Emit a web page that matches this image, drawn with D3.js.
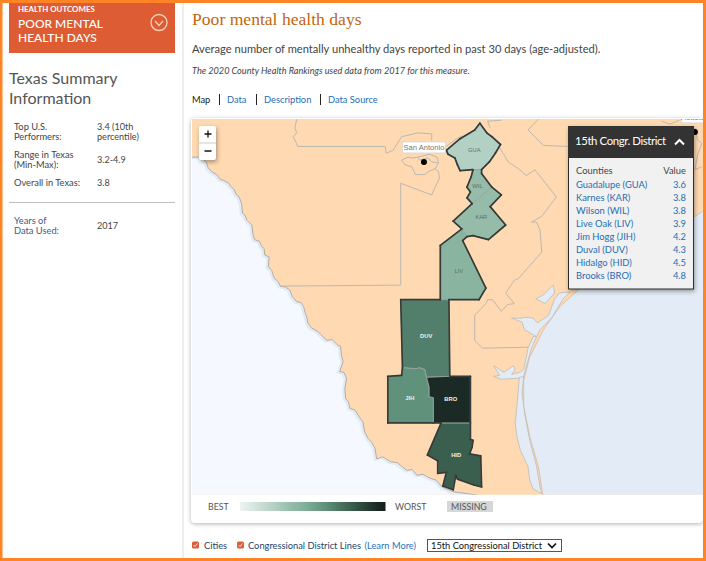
<!DOCTYPE html>
<html>
<head>
<meta charset="utf-8">
<title>Poor mental health days</title>
<script src="https://cdn.jsdelivr.net/npm/d3@7"></script>
<style>
  html, body { margin: 0; padding: 0; background: #fff; }
  svg { display: block; font-family: Lato, "Open Sans", sans-serif; }
  .card { filter: drop-shadow(0 1px 2px rgba(0,0,0,0.3)); }
  .boxShadow { filter: drop-shadow(1px 2px 2px rgba(0,0,0,0.35)); }
</style>
</head>
<body>
<svg id="page" width="706" height="561"></svg>
<script>
// the 15th district counties, already sorted by value like the table
var countyNames = ['Guadalupe', 'Karnes', 'Wilson', 'Live Oak', 'Jim Hogg', 'Duval', 'Hidalgo', 'Brooks'];
var countyCodes = ['GUA', 'KAR', 'WIL', 'LIV', 'JIH', 'DUV', 'HID', 'BRO'];
var countyValues = [3.6, 3.8, 3.8, 3.9, 4.2, 4.3, 4.5, 4.8];

// colour ramp, measure range in Texas is 3.2-4.9
var rampValues = [3.2, 3.6, 3.8, 3.9, 4.2, 4.3, 4.5, 4.8, 4.9];
var rampColors = ['#eef4f1', '#b3d0c4', '#94bca8', '#89b5a0', '#5f917b', '#527f6b', '#3a5f4e', '#1b2a24', '#141e1a'];

// county outlines traced by eye, [lon, lat]
var guaRing = [[-97.84,29.82],[-97.76,29.72],[-97.70,29.68],[-97.60,29.60],[-97.66,29.51],[-97.73,29.42],[-97.82,29.34],[-97.92,29.34],[-98.07,29.33],[-98.10,29.39],[-98.13,29.46],[-98.21,29.50],[-98.23,29.54],[-98.07,29.66],[-97.90,29.75]];
var wilRing = [[-97.92,29.34],[-97.82,29.34],[-97.82,29.30],[-97.70,29.16],[-97.93,28.99],[-97.99,29.05],[-97.95,29.11],[-97.99,29.16],[-97.94,29.27]];
var karRing = [[-97.70,29.16],[-97.59,29.08],[-97.72,28.96],[-97.54,28.77],[-97.74,28.62],[-97.92,28.66],[-97.99,28.65],[-98.05,28.73],[-98.15,28.81],[-97.93,28.99]];
var livRing = [[-98.05,28.73],[-97.99,28.65],[-98.04,28.61],[-97.77,28.12],[-97.85,28.00],[-98.20,28.00],[-98.30,28.00],[-98.30,28.56]];
var duvRing = [[-98.76,28.00],[-98.30,28.00],[-98.20,28.00],[-98.19,27.21],[-98.46,27.20],[-98.48,27.28],[-98.54,27.30],[-98.58,27.29],[-98.74,27.30]];
var jihRing = [[-98.91,27.21],[-98.75,27.22],[-98.74,27.30],[-98.58,27.29],[-98.54,27.30],[-98.48,27.28],[-98.46,27.20],[-98.43,27.10],[-98.43,27.00],[-98.38,26.99],[-98.38,26.73],[-98.91,26.73]];
var broRing = [[-98.46,27.20],[-98.19,27.21],[-97.95,27.21],[-97.95,26.73],[-98.29,26.73],[-98.38,26.73],[-98.38,26.99],[-98.43,27.00],[-98.43,27.10]];
var hidRing = [[-98.29,26.73],[-97.95,26.73],[-97.95,26.56],[-97.92,26.55],[-97.93,26.48],[-97.96,26.41],[-97.83,26.39],[-97.82,26.07],[-97.91,26.09],[-98.10,26.15],[-98.12,26.19],[-98.15,26.04],[-98.27,26.08],[-98.23,26.22],[-98.33,26.21],[-98.33,26.34],[-98.45,26.40]];
var countyRings = [guaRing, karRing, wilRing, livRing, jihRing, duvRing, hidRing, broRing];

// river border with Mexico, then the gulf coast and the bays
var borderLine = [[-101.19,29.47],[-101.12,29.47],[-101.07,29.46],[-101.02,29.42],[-101.00,29.36],[-100.96,29.32],[-100.90,29.29],[-100.86,29.24],[-100.82,29.23],[-100.76,29.20],[-100.73,29.16],[-100.70,29.14],[-100.67,29.08],[-100.64,29.06],[-100.61,28.99],[-100.60,28.89],[-100.57,28.87],[-100.55,28.82],[-100.49,28.77],[-100.48,28.68],[-100.46,28.62],[-100.40,28.60],[-100.38,28.55],[-100.35,28.53],[-100.34,28.46],[-100.29,28.44],[-100.30,28.34],[-100.26,28.30],[-100.23,28.22],[-100.19,28.19],[-100.16,28.14],[-100.10,28.13],[-100.05,28.10],[-100.02,28.03],[-99.97,27.98],[-99.92,27.97],[-99.89,27.93],[-99.87,27.86],[-99.85,27.81],[-99.84,27.76],[-99.80,27.71],[-99.72,27.67],[-99.69,27.64],[-99.62,27.58],[-99.56,27.59],[-99.49,27.53],[-99.46,27.52],[-99.45,27.43],[-99.43,27.36],[-99.47,27.26],[-99.42,27.25],[-99.39,27.19],[-99.41,27.08],[-99.40,26.98],[-99.37,26.95],[-99.35,26.88],[-99.29,26.86],[-99.25,26.80],[-99.20,26.74],[-99.18,26.64],[-99.14,26.57],[-99.10,26.53],[-99.06,26.47],[-99.04,26.36],[-98.97,26.38],[-98.88,26.33],[-98.80,26.32],[-98.69,26.24],[-98.63,26.25],[-98.57,26.19],[-98.50,26.20],[-98.42,26.16],[-98.35,26.14],[-98.28,26.07],[-98.15,26.02],[-97.98,26.00],[-97.84,25.98]];
var mexicoCorners = [[-97.84,25.9],[-101.5,25.9],[-101.5,29.47]];
var coastLine = [[-97.10,25.9],[-97.11,26.00],[-97.16,26.28],[-97.26,26.59],[-97.33,26.90],[-97.33,27.17],[-97.26,27.41],[-97.10,27.69],[-96.91,27.93],[-96.70,28.10],[-95.34,28.86],[-95.25,28.91]];
var gulfCorners = [[-95.0,28.91],[-95.0,25.9]];
var lagunaRing = [[-97.38,27.21],[-97.40,27.00],[-97.42,26.79],[-97.43,26.74],[-97.41,26.59],[-97.37,26.45],[-97.28,26.28],[-97.26,26.14],[-97.22,26.05],[-97.12,26.00],[-97.14,26.07],[-97.18,26.28],[-97.26,26.55],[-97.32,26.83],[-97.35,27.04],[-97.33,27.21]];
var corpusRing = [[-97.68,27.21],[-97.61,27.22],[-97.68,27.32],[-97.61,27.28],[-97.56,27.25],[-97.45,27.32],[-97.43,27.28],[-97.47,27.23],[-97.38,27.25],[-97.33,27.28],[-97.28,27.50],[-97.22,27.62],[-97.18,27.62],[-97.24,27.50],[-97.30,27.31],[-97.33,27.21],[-97.41,27.19],[-97.59,27.18]];
var copanoRing = [[-97.47,27.81],[-97.35,27.81],[-97.32,27.82],[-97.22,27.81],[-97.17,27.76],[-97.04,27.84],[-96.97,28.01],[-96.91,28.07],[-96.79,28.08],[-96.87,28.01],[-97.00,27.82],[-97.14,27.69],[-97.18,27.62],[-97.22,27.64],[-97.32,27.69],[-97.35,27.77]];
var sanAntonioBayRing = [[-97.19,28.01],[-97.10,28.05],[-96.99,28.15],[-96.97,28.07],[-97.08,27.96]];
var bayRings = [lagunaRing, corpusRing, copanoRing, sanAntonioBayRing];

// thin grey district lines on the land
var districtLines = [
    [[-99.97,29.86],[-99.99,29.77],[-99.97,29.72],[-100.01,29.68],[-99.97,29.61],[-99.96,29.58],[-98.94,29.58],[-98.93,29.51],[-98.85,29.54],[-98.75,29.68],[-98.56,29.72],[-98.40,29.71],[-98.40,29.64]],
    [[-98.75,29.44],[-98.67,29.47],[-98.63,29.46],[-98.56,29.47],[-98.42,29.50],[-98.34,29.47],[-98.32,29.41],[-98.36,29.35],[-98.32,29.32],[-98.31,29.25],[-98.36,29.16],[-98.40,29.08],[-98.76,29.20],[-98.76,28.15],[-100.16,28.14]],
    [[-98.75,29.44],[-98.71,29.39],[-98.63,29.37],[-98.59,29.29],[-98.48,29.29],[-98.44,29.32],[-98.36,29.35]],
    [[-98.56,29.47],[-98.54,29.44],[-98.44,29.46],[-98.40,29.42],[-98.32,29.41]],
    [[-98.23,29.58],[-98.11,29.66],[-98.05,29.69]],
    [[-97.72,29.77],[-97.75,29.84],[-97.59,29.85]],
    [[-97.16,29.86],[-97.28,29.75],[-97.10,29.59],[-96.82,29.58]],
    [[-97.62,29.58],[-97.57,29.51],[-97.51,29.42],[-97.39,29.35],[-97.30,29.28],[-97.20,29.34],[-96.95,29.06],[-97.12,28.86],[-97.24,28.80],[-97.18,28.80],[-97.14,28.72],[-97.12,28.49],[-97.39,28.22],[-97.44,28.20],[-97.54,28.07],[-97.44,27.96],[-97.52,27.95],[-97.59,27.88],[-97.65,27.95],[-97.69,28.00],[-97.75,28.00],[-97.77,27.96],[-97.90,27.84],[-97.90,27.58],[-97.81,27.50],[-97.28,27.51]],
    [[-95.73,29.84],[-95.63,29.81],[-95.52,29.85]],
    [[-95.34,29.77],[-95.31,29.65],[-95.26,29.61],[-95.31,29.49],[-95.34,29.34],[-95.26,29.37]]
];

var cityNames = ['San Antonio', 'Houston'];
var cityLons = [-98.49, -95.34];
var cityLats = [29.42, 29.73];

var legendStart = 'BEST';
var legendEnd = 'WORST';
var legendMissing = 'MISSING';
var tableTitle = '15th Congr. District';
var tabLabels = ['Map', 'Data', 'Description', 'Data Source'];

var svg = d3.select('#page');
var FONT_SERIF = '"Liberation Serif", serif';
var LINK_BLUE = '#1f6db5';
var TEXT_GREY = '#444';

function addText(parent, x, y, str, size, fill, extra) {
    var t = parent.append('text')
        .attr('x', x)
        .attr('y', y)
        .attr('font-size', size)
        .attr('fill', fill)
        .text(str);
    if (extra) {
        Object.keys(extra).forEach(function(k) { t.attr(k, extra[k]); });
    }
    return t;
}

// ---- sidebar ----
svg.append('rect').attr('x', 9).attr('y', 0).attr('width', 166).attr('height', 53).attr('fill', '#dd5c33');
addText(svg, 18, 12, 'HEALTH OUTCOMES', 7.9, '#fff', { 'font-weight': 700 });
addText(svg, 18, 28, 'POOR MENTAL', 12, '#fff', { 'font-weight': 500 });
addText(svg, 18, 42, 'HEALTH DAYS', 12, '#fff', { 'font-weight': 500 });
svg.append('circle').attr('cx', 159).attr('cy', 22.5).attr('r', 8).attr('fill', 'none').attr('stroke', '#f5cdb9').attr('stroke-width', 1.4);
svg.append('path').attr('d', 'M155,21 L159,25.5 L163,21').attr('fill', 'none').attr('stroke', '#f5cdb9').attr('stroke-width', 1.4);

addText(svg, 9, 84, 'Texas Summary', 16, '#555');
addText(svg, 9, 104, 'Information', 16, '#555');

var summaryLabels = [['Top U.S.', 130], ['Performers:', 140], ['Range in Texas', 158], ['(Min-Max):', 168], ['Overall in Texas:', 186]];
var summaryValues = [['3.4 (10th', 130], ['percentile)', 140], ['3.2-4.9', 163], ['3.8', 186], ['2017', 229]];
summaryLabels.forEach(function(d) { addText(svg, 14, d[1], d[0], 9.3, TEXT_GREY); });
summaryValues.forEach(function(d) { addText(svg, 97, d[1], d[0], 9.1, TEXT_GREY); });
svg.append('rect').attr('x', 9).attr('y', 202).attr('width', 166).attr('height', 1).attr('fill', '#bdbdbd');
addText(svg, 14, 224, 'Years of', 9.3, '#35608c');
addText(svg, 14, 234, 'Data Used:', 9.3, '#35608c');
svg.append('rect').attr('x', 182.5).attr('y', 3).attr('width', 1).attr('height', 555).attr('fill', '#ddd');

// ---- heading ----
addText(svg, 192, 25, 'Poor mental health days', 17.6, '#c2660e', { 'font-family': FONT_SERIF });
addText(svg, 192, 53, 'Average number of mentally unhealthy days reported in past 30 days (age-adjusted).', 11.15, TEXT_GREY);
addText(svg, 192, 74, 'The 2020 County Health Rankings used data from 2017 for this measure.', 9.15, TEXT_GREY, { 'font-style': 'italic' });

var tabX = d3.scaleOrdinal().domain(tabLabels).range([192, 227, 264, 328]);
tabLabels.forEach(function(label, i) {
    addText(svg, tabX(label), 103, label, 9.3, i === 0 ? '#222' : LINK_BLUE);
});
[219.5, 256.5, 320.5].forEach(function(x) {
    svg.append('line').attr('x1', x).attr('x2', x).attr('y1', 94).attr('y2', 105).attr('stroke', '#222');
});

// ---- map card ----
svg.append('rect').attr('class', 'card').attr('x', 191).attr('y', 118).attr('width', 512).attr('height', 405).attr('rx', 4).attr('fill', '#fff');

var lonScale = d3.scaleLinear().domain([-101, -95]).range([208.1, 724.1]);
var latScale = d3.scaleLinear().domain([30, 26]).range([105.7, 493.7]);
var line = d3.line().x(function(d) { return lonScale(d[0]); }).y(function(d) { return latScale(d[1]); });
var ring = function(pts) { return line(pts) + 'Z'; };

svg.append('clipPath').attr('id', 'mapClip')
    .append('rect').attr('x', 192).attr('y', 119).attr('width', 511).attr('height', 375.7);

var map = svg.append('g').attr('clip-path', 'url(#mapClip)');
map.append('rect').attr('x', 192).attr('y', 119).attr('width', 511).attr('height', 376).attr('fill', '#fed9b1');

map.append('path').attr('d', ring(borderLine.concat(mexicoCorners))).attr('fill', '#f5f9ff');
map.append('path').attr('d', line(borderLine)).attr('fill', 'none').attr('stroke', '#e2ebf5').attr('stroke-width', 2.5).attr('transform', 'translate(-1.5,1)');
map.append('path').attr('d', line(borderLine)).attr('fill', 'none').attr('stroke', '#aeaca6').attr('stroke-width', 1);

map.append('path').attr('d', ring(coastLine.concat(gulfCorners))).attr('fill', '#e3ecf6');
map.append('path').attr('d', line(coastLine)).attr('fill', 'none').attr('stroke', '#d6c4ae').attr('stroke-width', 1);

map.selectAll('path.bay').data(bayRings).enter().append('path')
    .attr('class', 'bay')
    .attr('d', ring)
    .attr('fill', '#e3ecf6')
    .attr('stroke', '#bdbcb6')
    .attr('stroke-width', 0.8);

map.selectAll('path.district').data(districtLines).enter().append('path')
    .attr('class', 'district')
    .attr('d', line)
    .attr('fill', 'none')
    .attr('stroke', '#bcb8b0')
    .attr('stroke-width', 1);

var colorScale = d3.scaleLinear().domain(rampValues).range(rampColors);

map.selectAll('path.county').data(countyRings).enter().append('path')
    .attr('class', 'county')
    .attr('d', ring)
    .attr('fill', function(d, i) { return colorScale(countyValues[i]); })
    .attr('stroke', '#9aa59f')
    .attr('stroke-width', 0.9);

// segments used by one county only make the dark outline of the district
var edgeCount = {};
countyRings.forEach(function(r) {
    r.forEach(function(p, i) {
        var q = r[(i + 1) % r.length];
        var key = [String(p), String(q)].sort().join('|');
        if (!edgeCount[key]) { edgeCount[key] = { n: 0, pts: [p, q] }; }
        edgeCount[key].n += 1;
    });
});
var outerEdges = Object.keys(edgeCount)
    .map(function(k) { return edgeCount[k]; })
    .filter(function(e) { return e.n === 1; });
map.selectAll('path.outer').data(outerEdges).enter().append('path')
    .attr('class', 'outer')
    .attr('d', function(e) { return line(e.pts); })
    .attr('fill', 'none')
    .attr('stroke', '#363a38')
    .attr('stroke-width', 1.7)
    .attr('stroke-linecap', 'round');

countyRings.forEach(function(r, i) {
    var c = d3.polygonCentroid(r.map(function(p) { return [lonScale(p[0]), latScale(p[1])]; }));
    var dark = countyValues[i] >= 4;
    addText(map, c[0], c[1] + 2, countyCodes[i], 5.8, dark ? '#f0f0ee' : '#5f6f68', { 'text-anchor': 'middle', 'font-weight': dark ? 700 : 400, 'font-family': 'Liberation Sans, sans-serif' });
});

cityNames.forEach(function(name, i) {
    var cx = lonScale(cityLons[i]);
    var cy = latScale(cityLats[i]);
    var w = name.length * 3.9;
    map.append('rect').attr('x', cx - w / 2).attr('y', cy - 20).attr('width', w).attr('height', 11)
        .attr('fill', '#fff').attr('stroke', '#ccc').attr('stroke-width', 0.6);
    addText(map, cx, cy - 11.5, name, 7.6, '#777', { 'text-anchor': 'middle', 'font-family': 'Liberation Sans, sans-serif' });
    map.append('circle').attr('cx', cx).attr('cy', cy).attr('r', 3).attr('fill', '#000');
});

// zoom control
svg.append('rect').attr('class', 'boxShadow').attr('x', 199).attr('y', 126).attr('width', 17).attr('height', 34).attr('rx', 2).attr('fill', '#fff');
svg.append('rect').attr('x', 199).attr('y', 142.5).attr('width', 17).attr('height', 1).attr('fill', '#ccc');
svg.append('path').attr('d', 'M204.5,134 H211.5 M208,130.5 V137.5 M204.5,151 H211.5').attr('stroke', '#111').attr('stroke-width', 1.3).attr('fill', 'none');

// county table
svg.append('rect').attr('class', 'boxShadow').attr('x', 568.5).attr('y', 126.5).attr('width', 125).attr('height', 162.5).attr('fill', '#f1f1f1').attr('stroke', '#2c2c2c');
svg.append('rect').attr('x', 568).attr('y', 126).attr('width', 126).attr('height', 32).attr('fill', '#333');
addText(svg, 575, 145, tableTitle, 11.4, '#fff', { 'letter-spacing': -0.4 });
svg.append('path').attr('d', 'M675,144.5 L679.5,140 L684,144.5').attr('fill', 'none').attr('stroke', '#fff').attr('stroke-width', 2);
addText(svg, 576, 174, 'Counties', 9.4, TEXT_GREY);
addText(svg, 686, 174, 'Value', 9.4, TEXT_GREY, { 'text-anchor': 'end' });

var rowY = d3.scaleBand().domain(countyCodes).range([178, 282]);
countyCodes.forEach(function(code, i) {
    var y = rowY(code) + 9.5;
    addText(svg, 576, y, countyNames[i] + ' (' + code + ')', 9.4, LINK_BLUE);
    addText(svg, 686, y, countyValues[i].toFixed(1), 9.4, LINK_BLUE, { 'text-anchor': 'end' });
});

// ---- legend ----
var defs = svg.append('defs');
var gradient = defs.append('linearGradient').attr('id', 'legendRamp');
var legendOffset = d3.scaleLinear().domain([rampValues[0], rampValues[rampValues.length - 1]]).range([0, 100]);
rampValues.forEach(function(v) {
    gradient.append('stop').attr('offset', legendOffset(v) + '%').attr('stop-color', colorScale(v));
});
addText(svg, 208, 510, legendStart, 8.8, '#555');
svg.append('rect').attr('x', 240).attr('y', 502).attr('width', 145.5).attr('height', 9).attr('fill', 'url(#legendRamp)');
addText(svg, 395, 510, legendEnd, 8.8, '#555');
svg.append('rect').attr('x', 447).attr('y', 501).attr('width', 46).attr('height', 11).attr('fill', '#d6d6d6');
addText(svg, 451, 510, legendMissing, 8.8, '#555');

// ---- controls under the map ----
[192, 237].forEach(function(x) {
    svg.append('rect').attr('x', x).attr('y', 541.5).attr('width', 7).attr('height', 7).attr('rx', 1.5).attr('fill', '#d9603a');
    svg.append('path').attr('d', 'M' + (x + 1.5) + ',545 l1.5,1.5 l2.5,-3').attr('fill', 'none').attr('stroke', '#fff').attr('stroke-width', 0.8);
});
addText(svg, 204, 549, 'Cities', 9.3, '#1d4468');
addText(svg, 248, 549, 'Congressional District Lines', 9.3, '#1d4468');
addText(svg, 364.5, 549, '(Learn More)', 9.3, '#2a72bb');
svg.append('rect').attr('x', 427.5).attr('y', 539.5).attr('width', 134).attr('height', 12).attr('fill', '#fff').attr('stroke', '#555');
addText(svg, 431, 549, '15th Congressional District', 9.3, '#111');
svg.append('path').attr('d', 'M548,543.5 L552,547.5 L556,543.5').attr('fill', 'none').attr('stroke', '#111').attr('stroke-width', 1.7);

// orange page frame
svg.append('rect').attr('x', 1).attr('y', 1.5).attr('width', 703.5).attr('height', 558).attr('fill', 'none').attr('stroke', '#ff8426').attr('stroke-width', 3);
</script>
</body>
</html>
